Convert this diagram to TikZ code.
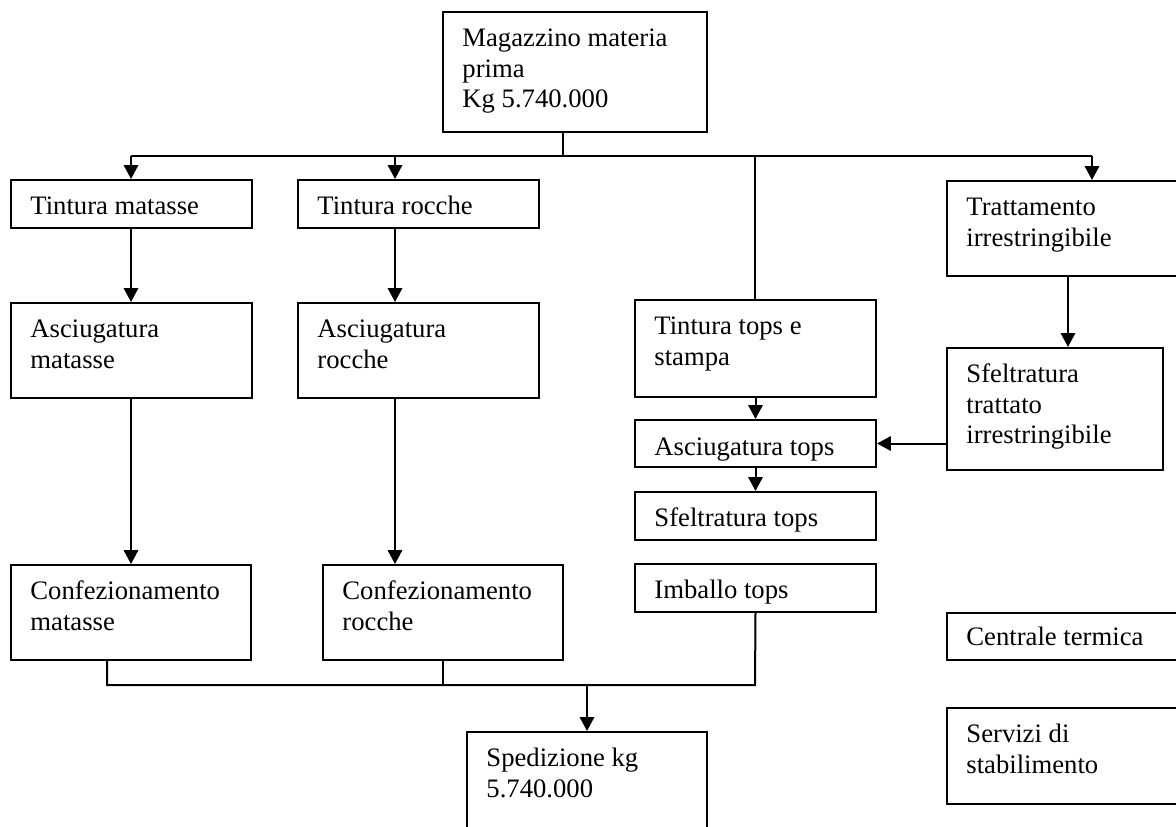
\documentclass[tikz,border=0pt]{standalone}
\usepackage{fontspec}
\setmainfont{Liberation Serif}
\usepackage{tikz}
\usetikzlibrary{arrows.meta, fit}

\begin{document}
\begin{tikzpicture}[x=0.45pt, y=-0.45pt,
    box/.style={rectangle, draw=black, line width=0.9pt, inner sep=0pt},
    txt/.style={anchor=north west, inner sep=0pt, align=left,
                font=\fontsize{12}{13.8}\selectfont},
    line/.style={draw=black, line width=0.9pt},
    arr/.style={line, -{Triangle[length=6.2pt, width=6.4pt]}}
]
\useasboundingbox (0,0) rectangle (1176,826);
\clip (0,0) rectangle (1176,826);

\node[box, fit={(443,12) (707,132)}] (mag) {};
\node[box, fit={(11,180) (252,228)}] (tm) {};
\node[box, fit={(298,180) (539,228)}] (tr) {};
\node[box, fit={(947,181) (1189,276)}] (trat) {};
\node[box, fit={(11,303) (252,398)}] (am) {};
\node[box, fit={(298,303) (539,398)}] (ar) {};
\node[box, fit={(635,300) (876,397)}] (tt) {};
\node[box, fit={(947,348) (1163,470)}] (sft) {};
\node[box, fit={(635,420) (876,467)}] (at) {};
\node[box, fit={(635,492) (876,540)}] (st) {};
\node[box, fit={(11,565) (251,660)}] (cm) {};
\node[box, fit={(323,565) (563,660)}] (cr) {};
\node[box, fit={(635,564) (876,612)}] (it) {};
\node[box, fit={(947,613) (1200,660)}] (ct) {};
\node[box, fit={(947,708) (1200,804)}] (sv) {};
\node[box, fit={(467,732) (707,850)}] (sp) {};

\node[txt] (mag-t) at ([shift={(20,13.5)}]mag.north west) {\strut Magazzino materia\\prima\\Kg 5.740.000};
\node[txt] (tm-t) at ([shift={(20,13.5)}]tm.north west) {\strut Tintura matasse};
\node[txt] (tr-t) at ([shift={(20,13.5)}]tr.north west) {\strut Tintura rocche};
\node[txt] (trat-t) at ([shift={(20,13.5)}]trat.north west) {\strut Trattamento\\irrestringibile};
\node[txt] (am-t) at ([shift={(20,13.5)}]am.north west) {\strut Asciugatura\\matasse};
\node[txt] (ar-t) at ([shift={(20,13.5)}]ar.north west) {\strut Asciugatura\\rocche};
\node[txt] (tt-t) at ([shift={(20,13.5)}]tt.north west) {\strut Tintura tops e\\stampa};
\node[txt] (sft-t) at ([shift={(20,13.5)}]sft.north west) {\strut Sfeltratura\\trattato\\irrestringibile};
\node[txt] (at-t) at ([shift={(20,14.5)}]at.north west) {\strut Asciugatura tops};
\node[txt] (st-t) at ([shift={(20,13.5)}]st.north west) {\strut Sfeltratura tops};
\node[txt] (cm-t) at ([shift={(20,13.5)}]cm.north west) {\strut Confezionamento\\matasse};
\node[txt] (cr-t) at ([shift={(20,13.5)}]cr.north west) {\strut Confezionamento\\rocche};
\node[txt] (it-t) at ([shift={(20,13.5)}]it.north west) {\strut Imballo tops};
\node[txt] (ct-t) at ([shift={(20,12)}]ct.north west) {\strut Centrale termica};
\node[txt] (sv-t) at ([shift={(20,13.5)}]sv.north west) {\strut Servizi di\\stabilimento};
\node[txt] (sp-t) at ([shift={(20,13.5)}]sp.north west) {\strut Spedizione kg\\5.740.000};

\coordinate (bmag) at (563,156);
\coordinate (b1) at (131,156);
\coordinate (b2) at (395,156);
\coordinate (b3) at (755,156);
\coordinate (b4) at (1092,156);
\coordinate (m1) at (107,685);
\coordinate (m2) at (755,685);
\coordinate (msp) at (587,685);

\draw[line] (bmag |- mag.south) -- (bmag);
\draw[line] (b1) -- (b4);
\draw[arr] (b1) -- (b1 |- tm.north);
\draw[arr] (b2) -- (b2 |- tr.north);
\draw[line] (b3) -- (b3 |- tt.north);
\draw[arr] (b4) -- (b4 |- trat.north);

\draw[arr] (b1 |- tm.south) -- (b1 |- am.north);
\draw[arr] (b2 |- tr.south) -- (b2 |- ar.north);
\draw[arr] (b1 |- am.south) -- (b1 |- cm.north);
\draw[arr] (b2 |- ar.south) -- (b2 |- cr.north);
\draw[arr] (tt.south) -- (at.north);
\draw[arr] (at.south) -- (st.north);
\draw[arr] (trat.south) -- (trat.south |- sft.north);
\draw[arr] (sft.west |- at.east) -- (at.east);

\draw[line] (m1 |- cm.south) -- (m1) -- (m2) -- (it.south);
\draw[line] (cr.south) -- (cr.south |- m1);
\draw[arr] (msp) -- (sp.north);

\end{tikzpicture}
\end{document}
